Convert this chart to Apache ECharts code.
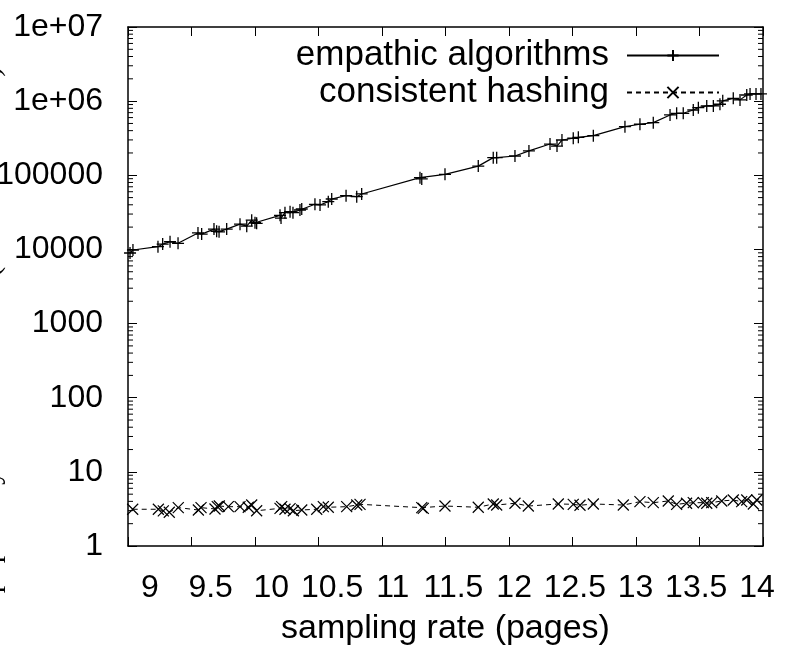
<!DOCTYPE html>
<html>
<head>
<meta charset="utf-8">
<script src="https://cdn.jsdelivr.net/npm/echarts@6/dist/echarts.min.js"></script>
<style>
  html, body { margin: 0; padding: 0; background: #fff; }
  #chart { width: 788px; height: 650px; }
</style>
</head>
<body>
<div id="chart"></div>
<script>
// sampling rate (pages) vs. measured value, log-scaled
const empathicX = [9.016, 9.039, 9.236, 9.273, 9.331, 9.394, 9.551, 9.580, 9.677, 9.698,
  9.717, 9.777, 9.882, 9.935, 9.974, 10.0, 10.013, 10.197, 10.205, 10.236,
  10.276, 10.299, 10.354, 10.368, 10.472, 10.512, 10.577, 10.604, 10.717, 10.801,
  10.840, 11.299, 11.313, 11.496, 11.758, 11.876, 11.903, 12.047, 12.157, 12.323,
  12.378, 12.417, 12.506, 12.546, 12.664, 12.913, 13.031, 13.136, 13.268, 13.320,
  13.372, 13.451, 13.491, 13.557, 13.609, 13.661, 13.683, 13.766, 13.819, 13.872,
  13.898, 13.945, 13.984];
const empathicY = [8950, 9820, 10900, 11800, 12700, 12100, 16700, 16100, 18800, 17600,
  17300, 18800, 21900, 20600, 24800, 22900, 22500, 28800, 26500, 31300,
  32300, 31300, 34000, 35100, 40600, 39800, 44100, 47900, 53100, 51400,
  56000, 92900, 89200, 103000, 133000, 173000, 173000, 182000, 213000, 264000,
  248000, 299000, 316000, 325000, 342000, 453000, 488000, 513000, 651000, 686000,
  686000, 760000, 817000, 861000, 861000, 908000, 1010000, 1090000, 1040000, 1210000,
  1250000, 1250000, 1250000];

const hashingX = [9.037, 9.239, 9.278, 9.325, 9.396, 9.554, 9.575, 9.685, 9.703, 9.719,
  9.790, 9.882, 9.947, 9.974, 10.013, 10.197, 10.210, 10.236, 10.276, 10.302,
  10.368, 10.486, 10.538, 10.577, 10.722, 10.801, 10.827, 11.313, 11.325, 11.496,
  11.758, 11.876, 11.903, 12.047, 12.152, 12.388, 12.506, 12.559, 12.664, 12.900,
  13.031, 13.136, 13.254, 13.320, 13.398, 13.451, 13.530, 13.557, 13.596, 13.675,
  13.766, 13.832, 13.872, 13.924, 13.951];
const hashingY = [3.13, 3.13, 2.97, 2.85, 3.29, 3.06, 3.29, 3.16, 3.39, 3.46,
  3.39, 3.39, 3.33, 3.57, 2.99, 3.22, 3.39, 3.13, 3.19, 2.99,
  3.06, 3.13, 3.39, 3.33, 3.39, 3.57, 3.65, 3.29, 3.22, 3.46,
  3.33, 3.69, 3.57, 3.77, 3.46, 3.69, 3.65, 3.54, 3.69, 3.57,
  3.96, 3.84, 4.05, 3.65, 3.77, 3.84, 3.84, 3.77, 3.84, 4.05,
  4.17, 3.96, 4.17, 3.69, 4.17];

const xTicks = { min: 9, max: 14, step: 0.5 };
const xTickLabels = [9, 9.5, 10, 10.5, 11, 11.5, 12, 12.5, 13, 13.5, 14];
// label row is set a little tighter than the tick row
const xLabelSpan = { min: 8.819, max: 14.05 };
const yDecades = { min: 1, max: 1e7 };
const minorMultipliers = [2, 3, 4, 5, 6, 7, 8, 9];

const seriesNames = ['empathic algorithms', 'consistent hashing'];
const xName = 'sampling rate (pages)';
const yName = 'popularity of the Ethernet (connections/sec)';

const FONT = 'Liberation Sans, Arial, Helvetica, sans-serif';
const INK = '#000';

function zip(xs, ys) { return xs.map((x, i) => [x, ys[i]]); }

// minor log ticks: 2..9 within every decade
const minorTickValues = [];
for (let d = yDecades.min; d < yDecades.max; d *= 10) {
  minorMultipliers.forEach(m => minorTickValues.push([xTicks.min, m * d]));
}

const plusPath = 'path://M0,5L10,5M5,0L5,10';
const crossPath = 'path://M0,0L10,10M10,0L0,10';

function yLabel(v) {
  const e = Math.round(Math.log10(v));
  if (e >= 6) return '1e+' + String(e).padStart(2, '0');
  return String(Math.round(v));
}

const chart = echarts.init(document.getElementById('chart'), null, { renderer: 'canvas' });

const commonX = {
  type: 'value', min: xTicks.min, max: xTicks.max, interval: xTicks.step,
  splitLine: { show: false },
  axisLine: { show: true, onZero: false, lineStyle: { color: INK, width: 1.5 } },
  axisTick: { show: true, inside: true, length: 9, lineStyle: { color: INK, width: 1 } }
};
const commonY = {
  type: 'log', logBase: 10, min: yDecades.min, max: yDecades.max,
  splitLine: { show: false },
  axisLine: { show: true, onZero: false, lineStyle: { color: INK, width: 1.5 } },
  axisTick: { show: true, inside: true, length: 9, lineStyle: { color: INK, width: 1 } }
};

chart.setOption({
  animation: false,
  backgroundColor: '#fff',
  grid: { left: 128, right: 25, top: 27, bottom: 104, containLabel: false, outerBoundsMode: 'none' },
  graphic: [{
    type: 'text',
    x: 6, y: 330,
    rotation: Math.PI / 2,
    style: {
      text: yName,
      font: '30px "Liberation Serif", "DejaVu Serif", serif',
      fill: INK,
      align: 'center',
      verticalAlign: 'bottom'
    }
  }],
  legend: {
    data: seriesNames,
    orient: 'vertical',
    align: 'right',
    right: 63,
    top: 33,
    itemWidth: 92,
    itemHeight: 14,
    itemGap: 2,
    textStyle: { fontFamily: FONT, fontSize: 35, color: INK, lineHeight: 34, padding: [0, 13, 0, 0] }
  },
  xAxis: [
    Object.assign({}, commonX, {
      position: 'bottom',
      name: xName,
      nameLocation: 'middle',
      nameGap: 66,
      nameTextStyle: { fontFamily: FONT, fontSize: 34, color: INK },
      axisLabel: { show: false }
    }),
    Object.assign({}, commonX, { position: 'top', axisLabel: { show: false } }),
    {
      // label row only
      type: 'value', position: 'bottom', min: xLabelSpan.min, max: xLabelSpan.max,
      axisLine: { show: false }, axisTick: { show: false }, splitLine: { show: false },
      axisLabel: {
        show: true, margin: 26, fontFamily: FONT, fontSize: 32, color: INK,
        customValues: xTickLabels, formatter: v => String(v)
      }
    }
  ],
  yAxis: [
    Object.assign({}, commonY, {
      position: 'left',
      axisLabel: { show: true, margin: 25, fontFamily: FONT, fontSize: 32, color: INK, formatter: yLabel }
    }),
    Object.assign({}, commonY, { position: 'right', axisLabel: { show: false } })
  ],
  series: [
    {
      name: seriesNames[0],
      type: 'line',
      data: zip(empathicX, empathicY),
      symbol: plusPath,
      symbolSize: 12,
      showAllSymbol: true,
      lineStyle: { color: INK, width: 1.2, type: 'solid' },
      itemStyle: { color: INK, borderColor: INK, borderWidth: 1.3 },
      z: 3
    },
    {
      name: seriesNames[1],
      type: 'line',
      data: zip(hashingX, hashingY),
      symbol: crossPath,
      symbolSize: 11,
      showAllSymbol: true,
      lineStyle: { color: INK, width: 1, type: [5, 4] },
      itemStyle: { color: INK, borderColor: INK, borderWidth: 1.2 },
      z: 3
    },
    {
      // short minor ticks on left and right frame edges
      type: 'custom',
      silent: true,
      clip: false,
      data: minorTickValues,
      renderItem: function (params, api) {
        const v = api.value(1);
        const l = api.coord([xTicks.min, v]);
        const r = api.coord([xTicks.max, v]);
        return {
          type: 'group',
          children: [
            { type: 'line', shape: { x1: l[0], y1: l[1], x2: l[0] + 5, y2: l[1] }, style: { stroke: INK, lineWidth: 1 } },
            { type: 'line', shape: { x1: r[0] - 5, y1: r[1], x2: r[0], y2: r[1] }, style: { stroke: INK, lineWidth: 1 } }
          ]
        };
      },
      z: 2
    }
  ]
});
</script>
</body>
</html>
